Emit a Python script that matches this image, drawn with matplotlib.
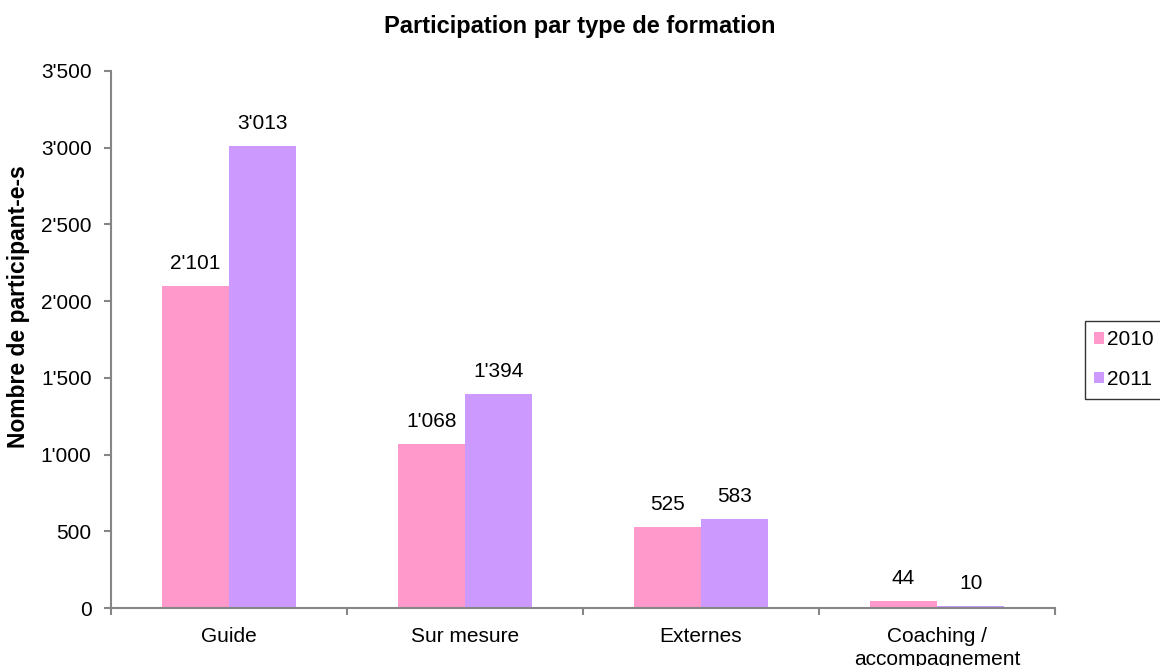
import matplotlib
matplotlib.use("Agg")
import matplotlib.pyplot as plt
import numpy as np
from matplotlib.ticker import FuncFormatter, FixedLocator

plt.rcParams['font.family'] = ['Liberation Sans', 'DejaVu Sans']

categories = ["Guide", "Sur mesure", "Externes", "Coaching /\naccompagnement"]
years = ["2010", "2011"]
values_2010 = [2101, 1068, 525, 44]
values_2011 = [3013, 1394, 583, 10]
colors = ["#FF99CC", "#CC99FF"]

fig = plt.figure(figsize=(11.6, 6.66), dpi=100)
ax = fig.add_axes([111 / 1160, 1 - 608 / 666, (1055 - 111) / 1160, (608 - 71) / 666])

x = np.arange(len(categories))
w = 1 / 3.5
series = [values_2010, values_2011]
for i, (vals, c, lab) in enumerate(zip(series, colors, years)):
    pos = x + (i - 0.5) * w
    bars = ax.bar(pos, vals, width=w, color=c, label=lab, linewidth=0)
    for b, v in zip(bars, vals):
        ax.text(b.get_x() + b.get_width() / 2, v + 85, f"{v:,}".replace(",", "'"),
                ha="center", va="bottom", fontsize=15)

def fmt(v, _):
    return f"{int(v):,}".replace(",", "'")

ax.set_ylim(0, 3500)
ax.set_yticks(np.arange(0, 3501, 500))
ax.yaxis.set_major_formatter(FuncFormatter(fmt))
ax.set_xlim(-0.5, len(categories) - 0.5)
ax.set_xticks(x)
ax.set_xticklabels(categories, fontsize=15, linespacing=1.3)
ax.xaxis.set_minor_locator(FixedLocator(np.arange(-0.5, len(categories), 1)))
ax.tick_params(axis="x", which="major", length=0, pad=13.5)
ax.tick_params(axis="x", which="minor", length=5, color="#868686", width=1.5, direction="out")
ax.tick_params(axis="y", length=5, color="#868686", width=1.5, direction="out",
               labelsize=15, pad=9)

for s in ["top", "right"]:
    ax.spines[s].set_visible(False)
for s in ["left", "bottom"]:
    ax.spines[s].set_color("#868686")
    ax.spines[s].set_linewidth(1.5)

ax.set_ylabel("Nombre de participant-e-s", fontsize=16.5, fontweight="bold")
ax.yaxis.set_label_coords((30 - 111) / 944, (608 - 307) / 537)
fig.text(580 / 1160, 1 - 26 / 666, "Participation par type de formation",
         ha="center", va="center", fontsize=17, fontweight="bold")

leg = fig.legend(loc="upper left", bbox_to_anchor=(1085 / 1160, 1 - 321 / 666),
                 bbox_transform=fig.transFigure, fontsize=15, frameon=True,
                 fancybox=False, edgecolor="black", handlelength=0.45, handleheight=0.45,
                 handletextpad=0.15, labelspacing=1.0, borderpad=0.45, borderaxespad=0)
leg.get_frame().set_linewidth(1.0)

fig.savefig("out.png", dpi=100)
